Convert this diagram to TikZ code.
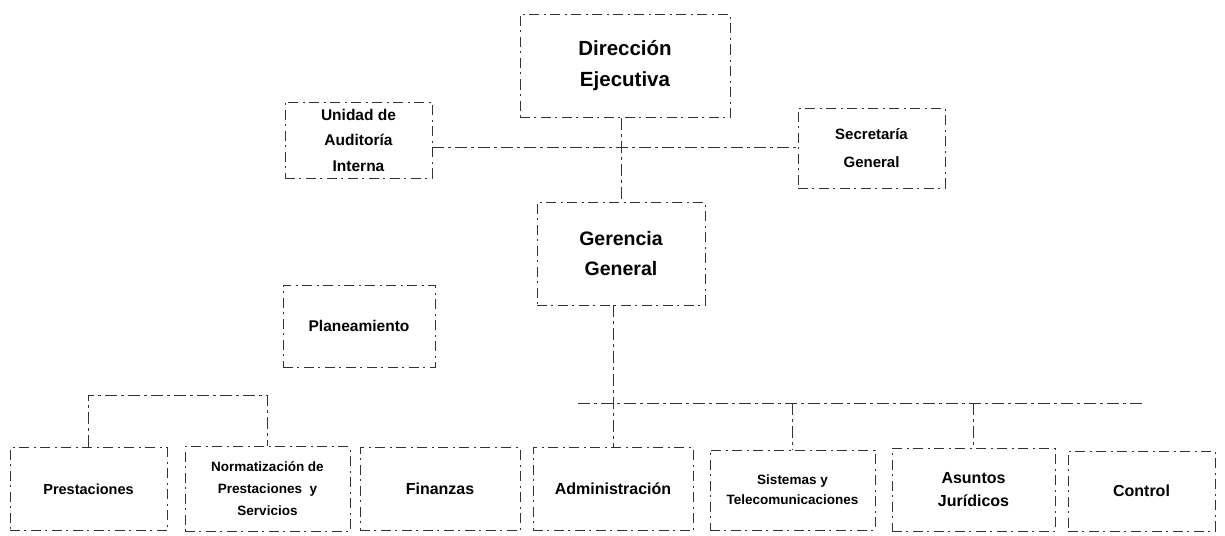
\documentclass[tikz,border=0pt]{standalone}
\usepackage{fontspec}
\setmainfont{Liberation Sans}
\newcommand{\fs}[2]{\bfseries\fontsize{#1}{#2}\selectfont}
\begin{document}
\begin{tikzpicture}[x=1pt,y=-1pt,
  box/.style={draw=black!80, line width=0.7pt, dash pattern=on 10pt off 4pt on 2pt off 5pt, inner sep=0pt, align=center},
  conn/.style={draw=black!80, line width=0.7pt, dash pattern=on 12pt off 4pt on 3pt off 4pt}]
\fill[white] (0,0) rectangle (1225,535);
\useasboundingbox (0,0) rectangle (1225,535);
% top levels
\node[box, minimum width=210pt, minimum height=103pt, font=\fs{20.5}{31}] (dir) at (625,66) {Dirección\\Ejecutiva};
\node[box, minimum width=147pt, minimum height=76pt, font=\fs{15.5}{25.5}] (aud) at (358.5,140) {Unidad de\\Auditoría\\Interna};
\node[box, minimum width=147pt, minimum height=80pt, font=\fs{15}{28}] (sec) at (871.5,148) {Secretaría\\General};
\node[box, minimum width=168pt, minimum height=103pt, font=\fs{19.5}{30}] (ger) at (621,253.5) {Gerencia\\General};
\node[box, minimum width=152pt, minimum height=82pt, font=\fs{15.5}{16}] (pla) at (359,326) {Planeamiento};
% bottom level
\node[box, minimum width=157pt, minimum height=83pt, font=\fs{14.5}{22}] (pre) at (88.5,489) {Prestaciones};
\node[box, minimum width=165pt, minimum height=85pt, font=\fs{13.5}{22}] (nor) at (267.5,489) {Normatización de\\Prestaciones \ y\\Servicios};
\node[box, minimum width=160pt, minimum height=83pt, font=\fs{16}{22}] (fin) at (440,489) {Finanzas};
\node[box, minimum width=160pt, minimum height=83pt, font=\fs{16}{22}] (adm) at (613,489) {Administración};
\node[box, minimum width=165pt, minimum height=80pt, font=\fs{13.5}{20}] (sis) at (792.5,490) {Sistemas y\\Telecomunicaciones};
\node[box, minimum width=163pt, minimum height=83pt, font=\fs{16}{23}] (asu) at (973.5,490) {Asuntos\\Jurídicos};
\node[box, minimum width=147pt, minimum height=80pt, font=\fs{16}{22}] (ctl) at (1141.5,491) {Control};
% junction coordinates
\coordinate (staff) at (622,147);
\coordinate (barL) at (0,395);
\coordinate (barR) at (578,403);
% connectors
\draw[conn] (dir.south -| ger.north) -- (ger.north);
\draw[conn] (aud.east |- staff) -- (sec.west |- staff);
\draw[conn] (ger.south -| adm.north) -- (adm.north);
\draw[conn] (barR) -- (ctl.north |- barR);
\draw[conn] (sis.north |- barR) -- (sis.north);
\draw[conn] (asu.north |- barR) -- (asu.north);
\draw[conn] (pre.north) -- (pre.north |- barL) -- (nor.north |- barL) -- (nor.north);
\end{tikzpicture}
\end{document}
